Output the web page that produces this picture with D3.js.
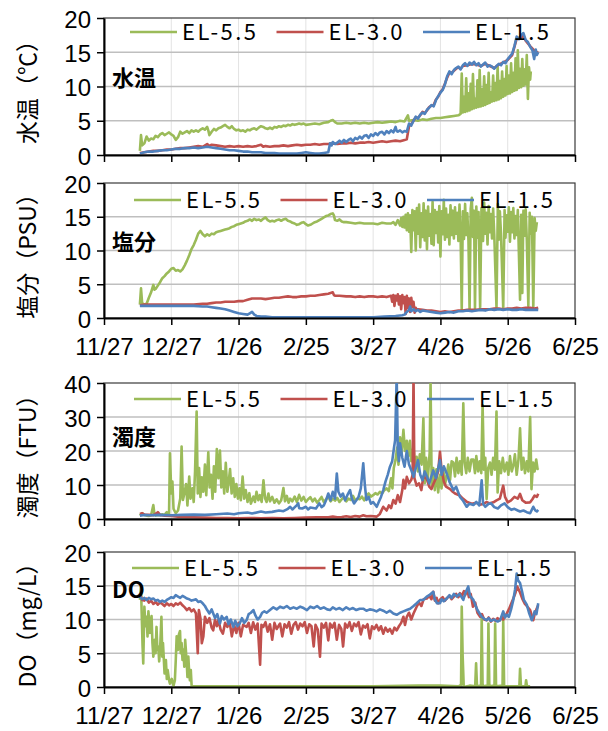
<!DOCTYPE html>
<html>
<head>
<meta charset="utf-8">
<script src="https://cdn.jsdelivr.net/npm/d3@7"></script>
<style>
  body { margin: 0; background: #fff; }
  svg { display: block; font-family: "Noto Sans CJK JP", "Noto Sans", sans-serif; }
</style>
</head>
<body>
<div id="chart"></div>
<script>
// ---- data ----
const seriesNames = ['EL-5.5', 'EL-3.0', 'EL-1.5'];
const startDate = '2018-11-27';
const xTickDates = ['2018-11-27', '2018-12-27', '2019-01-26', '2019-02-25',
  '2019-03-27', '2019-04-26', '2019-05-26', '2019-06-25'];

const panelTitles = ['水温（℃）', '塩分（PSU）', '濁度（FTU）', 'DO（mg/L）'];
const panelLabels = ['水温', '塩分', '濁度', 'DO'];
const yMaxes = [20, 20, 40, 20];
const yTickSteps = [5, 5, 10, 5];

// [days since 11/27, value]
const tempEL55 = [[16,0.6],[16.5,2.9],[17,1.4],[18,1.7],[19,2.7],[20,2.1],[21,2.4],[22,2.3],[23,2.8],[24,2.6],[25,3.0],[26,3.2],[27,2.9],[28,3.1],[29,3.3],[30,3.0],[31,2.8],[32,2.2],[33,2.6],[34,3.4],[35,3.1],[36,3.3],[37,3.5],[38,3.2],[39,3.6],[40,3.4],[41,3.6],[42,3.4],[43,3.7],[44,3.9],[45,3.7],[46,4.1],[46.5,3.6],[47,2.9],[48,3.4],[49,3.8],[50,3.6],[51,3.9],[52,4.0],[53,4.2],[54,4.4],[55,4.1],[56,3.9],[57,4.2],[58,3.8],[59,3.6],[60,3.7],[61,3.5],[62,3.6],[63,3.4],[64,3.7],[65,3.6],[66,3.8],[67,3.9],[68,3.7],[69,4.0],[70,4.2],[71,4.1],[72,3.9],[73,3.8],[74,4.0],[75,3.8],[76,4.1],[77,4.0],[78,4.2],[79,4.1],[80,4.3],[81,4.2],[82,4.4],[83,4.3],[84,4.5],[85,4.4],[86,4.5],[87,4.6],[88,4.5],[89,4.6],[90,4.4],[92,4.5],[94,4.6],[96,4.5],[98,4.7],[100,4.8],[101,5.0],[102,5.1],[103,4.8],[104,4.6],[106,4.6],[108,4.7],[110,4.6],[112,4.7],[114,4.6],[116,4.7],[118,4.6],[120,4.7],[122,4.8],[124,4.7],[126,4.8],[128,4.9],[130,4.8],[132,5.0],[134,4.9],[135.5,5.8],[136,5.0],[138,5.1],[140,5.0],[142,5.2],[144,5.1],[146,5.3],[148,5.4],[150,5.4],[152,5.5],[154,5.6],[156,5.7],[158,5.8],[159,6.0],[159.5,11.9],[160,6.2],[160.5,8.5],[161,6.3],[161.5,11.2],[162,6.4],[162.5,9.0],[163,6.5],[163.5,10.4],[164,6.7],[164.5,11.8],[165,6.8],[165.5,8.2],[166,6.9],[166.5,10.9],[167,7.0],[167.5,12.4],[168,7.1],[168.5,9.6],[169,7.2],[169.5,11.5],[170,7.3],[170.5,10.2],[171,7.5],[171.5,12.0],[172,7.6],[172.5,9.1],[173,7.8],[173.5,11.6],[174,7.9],[174.5,10.5],[175,8.0],[175.5,12.9],[176,8.1],[176.5,10.8],[177,8.3],[177.5,12.2],[178,8.5],[178.5,11.1],[179,8.7],[179.5,13.0],[180,8.9],[180.5,11.6],[181,9.0],[181.5,13.4],[182,9.2],[182.5,12.0],[183,9.4],[183.5,14.1],[184,9.5],[184.5,15.3],[185,9.8],[185.5,12.6],[186,9.9],[186.5,14.0],[187,10.1],[187.5,12.5],[188,10.3],[188.5,14.6],[189,8.2],[189.5,12.8],[190,11.0],[190.3,12.2]];
const tempEL30 = [[16,0.3],[18,0.4],[20,0.5],[22,0.6],[24,0.6],[26,0.7],[28,0.8],[30,0.8],[32,0.9],[34,1.0],[36,1.0],[38,1.1],[40,1.2],[42,1.3],[44,1.2],[46,1.6],[47,1.3],[48,1.5],[50,1.4],[52,1.3],[54,1.2],[56,1.3],[58,1.2],[60,1.3],[62,1.2],[64,1.3],[66,1.2],[68,1.3],[70,1.5],[71,1.2],[72,1.3],[74,1.2],[76,1.3],[78,1.3],[80,1.4],[82,1.3],[84,1.4],[86,1.5],[88,1.4],[90,1.5],[92,1.5],[94,1.6],[96,1.5],[98,1.6],[100,1.6],[102,1.7],[104,1.6],[106,1.7],[108,1.7],[110,1.8],[112,1.7],[114,1.8],[116,1.8],[118,1.9],[120,1.8],[122,1.9],[124,2.0],[126,1.9],[128,2.0],[130,2.1],[132,2.0],[134,2.2],[135,2.3],[136,4.2],[137,4.5],[138,5.0],[139,5.5],[140,5.4],[141,5.8],[142,6.3],[143,6.1],[144,6.5],[145,7.0],[146,7.2],[147,7.3],[148,8.1],[149,8.5],[150,9.2],[151,9.6],[152,10.4],[153,11.3],[154,12.0],[155,12.0],[156,12.3],[157,12.6],[158,12.8],[159,12.6],[160,13.0],[162,13.1],[164,13.3],[166,13.2],[168,13.0],[170,13.3],[172,13.0],[174,12.7],[176,13.2],[178,13.5],[180,13.9],[182,14.6],[184,17.0],[186,17.2],[187,17.4],[188,16.7],[190,15.9],[192,15.2],[193.6,14.9]];
const tempEL15 = [[16,0.2],[18,0.4],[20,0.5],[22,0.5],[24,0.6],[26,0.7],[28,0.7],[30,0.8],[32,0.9],[34,0.9],[36,1.0],[38,1.0],[40,1.1],[42,1.0],[44,1.1],[46,1.2],[48,1.1],[50,1.0],[52,0.9],[54,0.8],[56,0.7],[58,0.7],[60,0.6],[62,0.5],[64,0.5],[66,0.4],[68,0.4],[70,0.4],[72,0.3],[74,0.3],[76,0.3],[78,0.2],[80,0.2],[82,0.2],[84,0.2],[86,0.2],[88,0.3],[90,0.4],[92,0.3],[94,0.2],[96,0.2],[98,0.3],[100,0.4],[100.8,1.7],[101.5,1.4],[102,1.9],[103,1.6],[104,1.8],[105,2.1],[106,1.8],[107,2.2],[108,1.9],[109,2.2],[110,2.4],[111,2.0],[112,2.5],[113,2.3],[114,2.7],[115,2.4],[116,2.8],[117,2.9],[118,2.5],[119,3.0],[120,2.8],[121,3.2],[122,2.9],[123,3.3],[124,3.4],[125,3.0],[126,3.5],[127,3.2],[128,3.6],[129,3.3],[130,4.1],[130.5,3.5],[131,3.4],[132,3.6],[133,3.3],[134,3.5],[135,3.4],[136,4.6],[137,4.3],[138,5.0],[139,5.6],[140,5.3],[141,5.9],[142,6.2],[143,6.0],[144,6.6],[145,6.9],[146,7.3],[147,7.1],[148,8.0],[149,8.6],[150,9.1],[151,9.5],[152,10.3],[153,11.5],[154,12.2],[155,11.8],[156,12.4],[157,12.7],[158,12.9],[159,12.5],[160,13.1],[161,13.4],[162,13.0],[163,13.5],[164,13.2],[165,13.6],[166,13.1],[167,13.4],[168,12.9],[169,13.2],[170,13.5],[171,12.9],[172,13.1],[173,12.9],[174,12.6],[175,13.0],[176,13.3],[177,13.1],[178,13.6],[179,13.4],[180,14.0],[181,14.4],[182,14.8],[183,15.9],[184,17.3],[185,16.9],[186,17.5],[187,17.8],[188,16.8],[189,16.5],[190,15.8],[191,15.3],[191.8,14.0],[192.5,15.4],[193,14.6],[193.6,15.0]];

const salEL55 = [[16,2.0],[16.5,4.4],[17,2.2],[18,2.0],[19,2.1],[20,3.0],[21,3.8],[22,4.9],[22.5,4.2],[23,4.3],[24,4.8],[25,5.3],[26,5.9],[27,6.2],[28,6.6],[29,6.9],[30,7.3],[31,7.4],[32,7.0],[33,7.1],[34,6.9],[35,7.2],[36,7.8],[37,8.5],[38,9.3],[39,10.2],[40,10.8],[41,11.6],[42,12.5],[43,12.9],[44,12.4],[45,12.1],[46,12.4],[47,12.2],[48,12.5],[49,12.4],[50,12.7],[51,12.8],[52,12.9],[53,13.0],[54,13.1],[55,13.2],[56,13.3],[57,13.5],[58,13.6],[59,13.8],[60,13.9],[61,14.0],[62,14.1],[63,14.3],[64,14.4],[65,14.6],[66,14.4],[67,14.7],[68,14.5],[69,14.6],[70,14.4],[71,14.7],[72,14.9],[73,14.5],[74,14.3],[75,14.4],[76,14.3],[77,14.5],[78,14.6],[79,14.4],[80,14.6],[81,14.7],[82,14.4],[83,14.3],[84,14.1],[85,14.0],[86,13.8],[87,13.9],[88,14.1],[89,14.2],[90,13.9],[91,13.7],[92,13.8],[93,14.0],[94,14.2],[95,14.3],[96,14.5],[97,14.7],[98,14.9],[99,15.1],[100,15.2],[101,15.4],[102,15.5],[102.5,15.2],[103,14.5],[104,14.4],[105,14.6],[106,14.3],[107,14.2],[108,14.2],[110,14.1],[112,14.0],[114,14.1],[116,14.0],[118,14.0],[120,14.0],[122,13.9],[124,14.1],[126,14.0],[128,14.0],[129,14.2],[130,13.8],[131,14.5],[132,13.7],[132.5,14.8],[133,13.5],[133.5,15.0],[134,13.4],[134.5,15.3],[135,13.0],[135.5,15.5],[136,12.8],[136.5,15.2],[137,9.8],[137.5,16.0],[138,13.0],[138.5,15.8],[139,10.0],[139.5,16.3],[140,12.5],[140.5,16.8],[141,10.5],[141.5,15.5],[142,12.0],[142.5,17.0],[143,11.5],[143.5,15.9],[144,10.2],[144.5,16.5],[145,12.2],[145.5,15.4],[146,11.0],[146.5,17.2],[147,10.8],[147.5,16.0],[148,12.6],[148.5,15.7],[149,11.2],[149.5,16.6],[150,9.1],[150.5,15.8],[151,12.4],[151.5,17.5],[152,11.6],[152.5,16.2],[153,12.0],[153.5,15.3],[154,10.9],[154.5,16.7],[155,12.3],[155.5,15.9],[156,11.8],[156.5,16.4],[157,12.5],[157.5,15.6],[158,11.4],[158.5,16.8],[159,12.2],[159.5,1.2],[160,15.8],[160.5,11.7],[161,16.9],[161.5,12.3],[162,15.5],[162.5,11.5],[163,1.2],[163.5,16.2],[164,17.8],[164.5,12.0],[165,15.9],[165.4,1.3],[166,16.5],[166.5,11.9],[167,15.7],[167.7,1.5],[168.3,16.3],[169,11.4],[169.5,17.1],[170,12.5],[170.5,15.6],[171,10.9],[171.5,16.6],[172,12.7],[172.5,15.4],[173,11.8],[173.5,16.2],[174,12.4],[175,1.5],[175.6,16.9],[176,11.6],[176.5,15.8],[177,12.6],[178,1.4],[178.6,16.0],[179,11.9],[179.5,15.2],[180,12.8],[180.5,16.4],[181,11.3],[181.5,15.7],[182,12.7],[182.5,16.3],[183,11.8],[183.5,15.1],[184,12.3],[184.5,16.0],[185.5,2.7],[186,15.3],[186.5,3.7],[187,15.9],[187.5,12.2],[188,16.1],[188.5,11.7],[189.2,1.8],[189.8,15.6],[190.3,12.5],[190.8,15.0],[191.4,1.5],[192,14.8],[192.5,12.9],[193,14.2]];
const salEL30 = [[16,1.9],[18,2.0],[20,2.0],[25,2.0],[30,2.0],[35,2.0],[40,2.0],[44,2.1],[46,2.1],[48,2.2],[50,2.3],[52,2.3],[54,2.4],[56,2.4],[58,2.4],[60,2.5],[62,2.5],[64,2.7],[66,2.9],[68,2.9],[70,2.9],[72,2.8],[74,2.9],[76,3.0],[78,3.0],[80,3.1],[82,3.2],[84,3.1],[86,3.1],[88,3.2],[90,3.2],[92,3.3],[94,3.3],[96,3.4],[98,3.5],[100,3.6],[101,3.7],[102,3.8],[102.5,3.4],[103,3.3],[105,3.3],[108,3.2],[110,3.2],[112,3.1],[114,3.2],[116,3.1],[118,3.2],[120,3.2],[122,3.1],[124,3.2],[126,3.1],[128,3.3],[128.5,2.4],[129,3.4],[129.5,1.8],[130,3.3],[130.5,2.6],[131,3.5],[131.5,2.0],[132,3.2],[132.5,1.3],[133,3.4],[133.5,2.2],[134,3.1],[134.5,0.6],[135,3.3],[135.5,1.5],[136,2.9],[136.5,0.9],[137,3.0],[137.5,1.6],[138,2.4],[138.5,0.8],[139,1.5],[139.5,1.2],[140,1.3],[142,1.2],[144,1.1],[146,1.1],[148,1.0],[150,0.9],[152,1.0],[154,0.9],[156,1.0],[158,1.1],[160,1.1],[162,1.2],[164,1.2],[166,1.2],[168,1.3],[170,1.3],[172,1.3],[174,1.4],[176,1.4],[178,1.3],[180,1.4],[182,1.4],[184,1.5],[186,1.4],[188,1.5],[190,1.5],[192,1.4],[193.6,1.5]];
const salEL15 = [[16,1.8],[20,1.8],[25,1.8],[30,1.8],[35,1.8],[40,1.8],[44,1.7],[46,1.7],[48,1.6],[50,1.5],[52,1.4],[54,1.3],[56,1.1],[58,0.9],[60,0.7],[62,0.6],[64,0.5],[65,0.7],[66,0.9],[67,0.5],[68,0.3],[70,0.2],[72,0.2],[75,0.1],[80,0.1],[85,0.1],[90,0.1],[95,0.1],[100,0.1],[105,0.1],[110,0.1],[115,0.1],[120,0.1],[125,0.2],[130,0.3],[133,0.4],[134,0.5],[135,0.9],[136,1.2],[136.5,1.7],[137,1.0],[138,1.3],[139,1.0],[140,1.2],[141,0.9],[142,1.1],[144,1.0],[146,0.9],[148,0.8],[150,0.7],[152,0.8],[154,0.9],[156,0.8],[158,1.0],[160,1.0],[162,1.1],[164,1.0],[166,1.1],[168,1.2],[170,1.1],[172,1.3],[174,1.2],[176,1.3],[178,1.2],[180,1.3],[182,1.2],[184,1.2],[186,1.3],[188,1.2],[190,1.2],[192,1.2],[193.6,1.2]];

const turbEL55 = [[16,1.0],[17,1.7],[18,1.2],[19,1.0],[20,0.9],[21,1.1],[22,4.1],[22.5,1.3],[23,1.0],[24,1.2],[25,1.1],[26,1.4],[27,1.2],[28,2.0],[29,1.5],[29.4,19.3],[30,7.5],[30.5,11.0],[31,3.0],[32,1.7],[33,2.5],[34,6.0],[34.6,21.3],[35.2,5.6],[36,8.0],[36.6,10.3],[37.2,4.0],[38,12.5],[38.6,6.0],[39.4,9.0],[40,5.0],[40.6,14.0],[41.3,31.6],[41.8,7.5],[42.4,15.0],[43,6.5],[43.6,12.3],[44.3,8.0],[45,16.0],[45.6,7.0],[46.5,19.6],[47.1,9.3],[47.7,13.0],[48.4,6.0],[49,15.5],[49.6,8.0],[50.3,20.6],[51,12.0],[51.7,20.1],[52.3,9.3],[53,14.0],[53.6,7.5],[54.3,16.5],[55,8.0],[55.6,11.0],[56.2,14.7],[56.9,7.5],[57.6,12.0],[58.3,6.5],[59,10.3],[59.7,6.0],[60.4,9.0],[61,5.5],[61.8,12.5],[62.5,6.0],[63.2,8.5],[64,5.0],[64.8,7.6],[65.5,4.5],[66.6,6.6],[67.3,5.0],[68,8.0],[68.8,5.5],[69.5,7.0],[70.3,5.0],[71.1,11.4],[71.8,6.1],[72.5,5.0],[73.3,7.5],[74,5.2],[75,6.5],[76,4.8],[77,5.8],[78,4.6],[79,5.5],[80,9.1],[80.7,5.2],[81.5,6.8],[82.3,4.8],[83,6.0],[84,5.2],[85,6.6],[86,5.0],[87,7.1],[88,5.4],[89,6.5],[90,5.0],[91,5.8],[92,6.4],[93,5.2],[94,6.0],[95,4.8],[96,5.6],[97,6.5],[98,5.0],[99,5.8],[100,6.6],[101,5.2],[102,6.0],[103,5.4],[104,6.2],[105,5.0],[106,5.8],[107,6.4],[108,5.2],[109,6.0],[110,5.6],[111,6.8],[112,5.4],[113,6.0],[114,5.8],[115,6.6],[116,5.5],[117,6.8],[118,7.5],[119,6.6],[120,7.0],[121,7.6],[122,7.2],[123,8.0],[124,7.5],[125,8.5],[126,9.0],[127,8.2],[128,12.0],[128.6,9.0],[129.2,15.0],[130,17.4],[130.7,21.0],[131.3,16.0],[132,24.0],[132.7,19.5],[133.5,26.2],[134.2,20.0],[135,23.0],[135.7,18.5],[136.4,23.0],[137,17.0],[138,21.3],[138.7,15.0],[139.4,18.3],[140,14.0],[140.8,19.0],[141.6,16.0],[142.4,29.6],[143,10.5],[143.6,18.0],[144.4,12.0],[145.2,19.5],[145.6,40.4],[146.1,9.8],[146.8,15.0],[147.5,8.5],[148.2,14.6],[149,7.8],[149.8,13.0],[150.5,9.0],[151.2,15.0],[152,10.0],[152.8,12.7],[153.5,16.0],[154.3,11.5],[155,17.0],[155.8,16.6],[156.5,12.5],[157.2,18.0],[158,13.5],[158.7,17.0],[159.5,13.0],[160.2,34.0],[160.8,16.6],[161.5,13.5],[162.2,18.0],[163,14.0],[163.8,17.5],[164.7,17.5],[165.4,13.5],[166,18.5],[166.8,14.0],[167.5,17.0],[168.2,13.5],[168.8,33.5],[169.4,14.5],[170,18.0],[170.6,5.9],[171.3,15.0],[172.1,16.6],[172.8,13.0],[173.5,18.0],[174.3,14.5],[175,31.6],[175.5,7.8],[176.2,17.0],[177,13.5],[177.8,18.0],[178.6,14.0],[179.6,16.6],[180.3,13.0],[181,18.5],[181.8,14.0],[182.5,15.7],[183.2,19.0],[184,13.0],[184.8,17.5],[185.5,26.7],[186.2,14.5],[187,18.0],[187.7,13.5],[188.5,17.0],[189.2,14.0],[190,30.0],[190.6,8.8],[191.3,16.6],[192,14.0],[192.7,17.5],[193.3,14.7],[193.6,15.0]];
const turbEL30 = [[16,1.5],[17,1.7],[18,1.3],[20,1.2],[22,1.1],[24,2.0],[25,1.2],[27,1.0],[30,0.9],[33,0.7],[36,0.6],[40,0.5],[45,0.4],[50,0.3],[55,0.3],[60,0.2],[65,0.3],[70,0.2],[75,0.3],[80,0.2],[85,0.3],[90,0.4],[95,0.5],[100,0.5],[102,0.7],[104,0.5],[106,0.6],[108,0.8],[110,0.6],[112,0.9],[114,0.7],[115.6,1.1],[117,0.8],[119,0.9],[121.6,0.7],[123,1.5],[124.5,3.6],[126,2.5],[127,4.0],[128,3.2],[129,5.6],[130,4.5],[131,7.0],[132,5.0],[133,8.5],[133.5,11.5],[134.2,9.0],[135,12.4],[136,10.5],[137,11.5],[137.6,13.0],[138,42],[138.4,12.0],[139.4,9.8],[140.5,10.5],[141.5,8.5],[142.4,12.5],[143.9,11.8],[145,9.5],[146,8.8],[147,10.5],[148,12.0],[149,14.0],[149.8,19.8],[150.4,15.2],[151.5,11.0],[152.5,9.5],[154.3,8.8],[155.5,8.0],[156.5,7.5],[158.7,6.9],[160,6.0],[161.5,5.2],[162.2,4.9],[164,4.5],[166,4.8],[167.5,4.2],[169.1,4.4],[170.5,5.0],[172,4.6],[173.6,4.9],[175,5.5],[176.5,6.0],[178,9.8],[178.8,6.5],[180,4.9],[181.5,5.5],[183,6.5],[184.5,6.0],[185.5,7.4],[186.5,5.5],[188,4.8],[190,4.9],[191,5.8],[192,6.9],[193,6.5],[193.6,7.4]];
const turbEL15 = [[16,1.0],[18,1.2],[20,1.1],[25,1.2],[30,1.1],[35,1.2],[40,1.3],[45,1.2],[50,1.4],[55,1.6],[58,1.4],[60,1.7],[64,1.9],[66,1.6],[70,2.2],[72,1.9],[75,2.1],[78,2.5],[80,2.3],[82,3.0],[83,3.6],[84,2.8],[86,4.1],[86.6,4.6],[87,3.2],[88.4,3.1],[90,3.6],[91,2.8],[92,3.4],[94.5,3.1],[96,4.6],[97,3.5],[98,4.0],[99,5.5],[100,7.5],[101,5.5],[102,8.0],[103,6.0],[103.8,13.4],[104.5,8.0],[105.5,6.6],[106.5,7.5],[107.5,5.5],[108.5,7.0],[109.7,8.5],[110.5,6.0],[111.5,4.6],[112.5,5.5],[113.5,6.5],[114.5,9.0],[115.6,16.4],[116.3,10.0],[117,5.6],[118,6.5],[119,4.5],[120,5.0],[121.6,3.6],[122.5,5.0],[123.5,6.5],[124.5,8.5],[125.5,11.0],[126.5,13.0],[127.5,15.4],[128.5,17.0],[129.3,21.0],[129.8,23.2],[130.5,42],[131,20.0],[131.5,17.0],[132,22.3],[133,18.0],[134,15.4],[135,20.0],[136,16.0],[137,14.4],[138,12.4],[139,15.0],[140,17.3],[141,13.0],[142,11.4],[143,14.0],[144,12.5],[145,10.5],[146.8,14.3],[148,12.0],[149.8,17.3],[150.5,13.0],[151.5,15.5],[152.8,13.4],[154,11.0],[155.8,8.5],[157,9.5],[158.7,6.5],[160,5.5],[161.7,3.6],[163,4.5],[164.7,4.1],[166,5.0],[167.3,4.0],[168.4,11.4],[169,4.5],[170,3.6],[171.5,4.5],[172.6,4.6],[174,3.5],[175.6,3.1],[177,4.0],[178.6,4.6],[180,3.5],[181.6,2.7],[183,3.0],[184.5,2.5],[185.5,2.2],[187,2.5],[188.5,2.0],[190,1.7],[191.4,3.6],[192.3,2.5],[193,2.2],[193.6,2.7]];

const doEL55 = [[16,12.9],[16.5,14.8],[17.2,6.0],[17.5,3.5],[18,11.9],[18.5,9.0],[19,10.4],[19.4,7.5],[19.8,11.2],[20.5,8.0],[21.2,10.5],[21.6,6.5],[22,4.5],[22.6,7.0],[23,5.0],[23.4,8.9],[23.8,5.5],[24.2,6.0],[24.6,3.8],[25,5.5],[25.6,10.4],[26,4.5],[26.3,6.5],[27,2.0],[27.6,4.0],[28,1.2],[28.4,2.5],[29,1.0],[29.4,0.5],[30.2,1.2],[31,0.2],[31.6,1.0],[32,4.0],[32.4,7.5],[33,5.5],[33.4,7.8],[33.9,8.3],[34.2,5.0],[34.6,6.5],[35,4.0],[35.4,5.5],[35.8,3.0],[36.2,7.0],[36.9,3.5],[37.2,1.5],[37.6,4.5],[38,2.0],[38.3,1.0],[38.7,2.5],[39.1,0],[40,0.1],[60,0.1],[80,0.1],[100,0.1],[120,0.1],[140,0.2],[150,0.2],[158,0.1],[159.2,0.3],[159.5,11.9],[159.9,4.7],[160.4,0],[163,0.2],[165.5,0.1],[165.9,3.5],[166.3,0.1],[168.1,0.2],[168.4,10.4],[168.8,0.1],[171.1,0.2],[171.4,9.4],[171.8,0.1],[174.1,0.2],[174.4,9.4],[174.8,0.1],[177.7,0.2],[178,9.9],[178.4,0.1],[185.2,0.1],[185.5,2.7],[185.9,0.1],[187.9,0.1],[188.2,1.0],[188.6,0.1],[190,0.1]];
const doEL30 = [[16,13.9],[17,12.9],[18,12.8],[19,13.1],[20,12.5],[21,12.8],[22,12.3],[23,12.6],[24,12.2],[25,12.5],[26,12.3],[27,12.0],[28,12.4],[29,12.1],[30,12.3],[31,12.0],[32,12.4],[33,12.2],[34,12.5],[35,12.1],[36,11.8],[37,11.4],[38,11.7],[39,11.2],[40,11.5],[41,10.9],[41.8,5.0],[42.3,11.4],[43,10.2],[43.6,6.5],[44.3,7.5],[45,10.4],[46,9.5],[47,10.2],[48,8.8],[48.7,8.4],[49.5,10.0],[50.3,9.0],[51,9.9],[52,8.5],[53,7.9],[54,9.5],[55,8.9],[56,9.7],[57,7.5],[58,9.2],[59,8.0],[60,9.5],[61,7.5],[62,9.2],[63.6,8.9],[64.5,9.5],[65.5,8.0],[66.5,9.6],[67.5,8.5],[68.5,9.4],[69.6,3.3],[70.2,9.2],[71,8.9],[72,9.6],[73,8.2],[74,9.3],[75,7.0],[76,9.5],[77,8.6],[78.5,9.4],[79.5,7.5],[80.5,9.3],[81.5,8.8],[82.5,9.6],[83.5,7.9],[84.5,9.2],[85.5,9.6],[86.5,8.5],[87.5,9.4],[88.5,9.0],[89.5,9.6],[90.5,8.0],[91.5,9.3],[92.5,9.0],[93.5,6.0],[94.3,9.2],[95.3,8.5],[96.3,4.5],[97,9.4],[98,8.8],[99,9.5],[100,6.9],[100.8,9.4],[101.8,8.8],[102.8,9.5],[103.8,7.0],[104.8,9.2],[105.8,8.6],[106.6,6.0],[107.5,9.4],[108.5,8.8],[109.5,9.6],[110.5,8.3],[111.5,9.4],[112.5,9.0],[113.5,9.6],[114.5,7.8],[115.5,9.1],[116.5,8.8],[117.5,9.3],[118.5,7.2],[119.5,9.0],[120.5,8.6],[121.5,9.2],[122.5,8.4],[123.5,9.0],[124.5,7.9],[125.5,8.8],[126.5,8.2],[127.5,8.6],[128.5,7.9],[129.5,8.8],[130.5,8.4],[131.5,9.0],[132.5,9.5],[133.5,10.4],[134.2,9.2],[135,10.4],[136,11.0],[137,10.0],[138,10.9],[139.4,11.9],[140.5,12.5],[141.5,12.0],[142.5,13.0],[143.9,13.1],[145,13.5],[146,13.0],[146.8,14.1],[147.5,12.8],[148.3,13.2],[149,12.4],[150,13.0],[151,13.3],[152,12.8],[153,13.2],[154,13.5],[155,13.0],[156,13.4],[157,13.8],[158,13.3],[158.7,13.9],[159.5,13.5],[160.5,14.2],[161,13.6],[162,14.4],[162.7,13.3],[163.5,13.8],[164.5,11.9],[165.5,12.5],[166.5,11.0],[167.7,10.4],[168.5,10.8],[169.5,10.0],[170.6,9.9],[171.5,10.3],[172.5,9.7],[173.5,10.1],[174.5,9.8],[175.5,10.2],[176.6,9.9],[177.5,10.4],[178,10.0],[179.6,10.9],[180.5,11.5],[181.5,12.3],[182.5,13.1],[183.5,14.0],[184.2,14.9],[184.8,14.5],[185.5,14.0],[186.5,13.1],[187.5,12.4],[188.5,12.0],[190,11.4],[190.8,10.5],[191.4,9.9],[192,10.8],[192.8,11.5],[193.6,12.1]];
const doEL15 = [[16,13.4],[17,13.0],[18,13.2],[19,12.9],[20,13.2],[21,13.0],[22,13.1],[23,12.8],[24,12.9],[25,12.6],[26,12.8],[27,12.6],[28,12.9],[29,13.1],[30,13.3],[31,13.2],[32,13.6],[33,13.4],[34,13.2],[35,13.5],[36,13.3],[37,13.1],[38,13.0],[39,12.8],[40,12.9],[41,13.0],[42,12.6],[43,12.7],[44,12.4],[45,12.0],[46,11.4],[47,10.9],[48,11.5],[48.7,10.9],[49.5,10.2],[50.5,10.8],[51.7,9.4],[52.5,10.5],[53.5,10.0],[54.7,10.4],[55.5,9.3],[56.5,10.0],[57.7,8.9],[58.5,9.8],[59.5,9.0],[60.5,9.4],[61.5,10.2],[62.5,9.5],[63.6,9.9],[64.5,10.8],[65.5,11.0],[66.6,11.4],[67.5,10.6],[68.5,10.0],[69.6,10.4],[70.5,11.0],[71.5,11.2],[72.5,11.0],[74,11.4],[75.5,11.8],[77,11.5],[78.5,11.9],[80,11.7],[81.5,12.0],[83,11.6],[84.5,11.8],[86,11.6],[87.5,11.9],[89,11.7],[90.5,11.4],[92,11.9],[93.5,11.7],[95,12.0],[96.5,11.6],[98,11.8],[99.5,11.5],[100.8,11.4],[102,11.8],[103.5,11.5],[105,11.7],[106.5,11.4],[108,11.8],[109.5,11.5],[111,11.7],[112.5,11.4],[114,11.6],[115.6,11.6],[117,11.3],[118.5,11.5],[120,11.4],[121.5,11.2],[123,11.5],[124.5,11.3],[126,11.0],[127.5,11.3],[129,10.9],[130.5,10.7],[132,11.0],[133.5,11.2],[135,11.4],[136.5,11.6],[138,12.0],[139.4,12.4],[141,12.9],[142.4,12.9],[143.9,13.4],[145,13.6],[146.8,14.1],[147.5,13.0],[148.5,12.4],[149.8,12.4],[150.5,13.0],[151.5,12.7],[152.8,13.1],[154,13.6],[155,13.2],[156,13.8],[157.3,13.4],[158.5,13.8],[160.2,12.9],[161,13.8],[162.4,14.9],[163.2,13.5],[164.7,12.9],[165.5,12.2],[166.5,11.4],[168.4,10.4],[169.5,10.1],[170.6,9.9],[171.5,10.2],[172.5,9.8],[174,10.0],[175.5,9.7],[176.6,9.9],[178,11.2],[178.8,10.3],[179.6,10.7],[180.5,10.4],[181.5,11.5],[182.5,12.9],[183.3,14.5],[184,16.8],[184.6,15.8],[185.5,15.4],[186.5,14.0],[187.2,12.9],[188.5,12.2],[189.5,11.0],[190.7,9.9],[191.4,10.5],[192,11.2],[192.8,10.8],[193.6,12.4]];

const panelSeries = [
  [tempEL55, tempEL30, tempEL15],
  [salEL55, salEL30, salEL15],
  [turbEL55, turbEL30, turbEL15],
  [doEL55, doEL30, doEL15],
];

// ---- layout / style ----
const props = {
  width: 608,
  height: 731,
  plotLeft: 104,
  plotRight: 575,
  colors: ['#9bbb59', '#c0504d', '#4f81bd'],
  lineWidth: 2.6,
  gridColor: '#bfbfbf',
  vGridColor: '#e3e3e3',
  tickFont: '"Liberation Sans", "DejaVu Sans", sans-serif',
  fontSize: 24,
  legendFontSize: 22,
  legendSpacing: 146.5,
  legendLine: 47,
  panels: [
    { top: 18, bottom: 155, showDates: false, legendX: 130, legendY: 32, labelY: 86 },
    { top: 183, bottom: 318, showDates: true, legendX: 134, legendY: 200, labelY: 250 },
    { top: 383, bottom: 519, showDates: false, legendX: 134, legendY: 399, labelY: 445 },
    { top: 552, bottom: 687, showDates: true, legendX: 132, legendY: 568, labelY: 598 },
  ],
};

const parseDate = d3.utcParse('%Y-%m-%d');
const formatDate = d3.utcFormat('%-m/%-d');
const start = parseDate(startDate);
const toDate = (d) => new Date(+start + d * 864e5);
const xTicks = xTickDates.map(parseDate);

const x = d3.scaleUtc()
  .domain([xTicks[0], xTicks[xTicks.length - 1]])
  .range([props.plotLeft, props.plotRight]);

const svg = d3.select('#chart')
  .append('svg')
  .attr('width', props.width)
  .attr('height', props.height);

props.panels.forEach((layout, i) => {
  const y = d3.scaleLinear()
    .domain([0, yMaxes[i]])
    .range([layout.bottom, layout.top]);
  const yTicks = d3.range(0, yMaxes[i] + 1e-9, yTickSteps[i]);

  const g = svg.append('g').attr('class', `panel panel-${i}`);

  // vertical grid
  g.append('g')
    .selectAll('line')
    .data(xTicks.slice(1, -1))
    .join('line')
    .attr('x1', x).attr('x2', x)
    .attr('y1', layout.top).attr('y2', layout.bottom)
    .style('stroke', props.vGridColor)
    .style('stroke-width', 1);

  // horizontal grid
  g.append('g')
    .selectAll('line')
    .data(yTicks.slice(1, -1))
    .join('line')
    .attr('x1', props.plotLeft).attr('x2', props.plotRight)
    .attr('y1', y).attr('y2', y)
    .style('stroke', props.gridColor)
    .style('stroke-width', 1.5);

  // frame
  g.append('rect')
    .attr('x', props.plotLeft)
    .attr('y', layout.top)
    .attr('width', props.plotRight - props.plotLeft)
    .attr('height', layout.bottom - layout.top)
    .style('fill', 'none')
    .style('stroke', '#3a3a3a')
    .style('stroke-width', 1.2);

  // series
  const clipId = `clip-${i}`;
  g.append('clipPath').attr('id', clipId)
    .append('rect')
    .attr('x', props.plotLeft)
    .attr('y', layout.top)
    .attr('width', props.plotRight - props.plotLeft)
    .attr('height', layout.bottom - layout.top);

  const line = d3.line()
    .x((d) => x(toDate(d[0])))
    .y((d) => y(d[1]));

  g.append('g')
    .attr('clip-path', `url(#${clipId})`)
    .selectAll('path')
    .data(panelSeries[i])
    .join('path')
    .attr('d', line)
    .style('fill', 'none')
    .style('stroke', (d, k) => props.colors[k])
    .style('stroke-width', props.lineWidth)
    .style('stroke-linejoin', 'round');

  // axes
  const yAxis = g.append('g')
    .attr('transform', `translate(${props.plotLeft},0)`)
    .call(d3.axisLeft(y).tickValues(yTicks).tickSize(7).tickSizeOuter(0).tickPadding(6));
  const xAxis = g.append('g')
    .attr('transform', `translate(0,${layout.bottom})`)
    .call(d3.axisBottom(x).tickValues(xTicks).tickSize(7).tickSizeOuter(0).tickPadding(13)
      .tickFormat(formatDate));
  if (!layout.showDates) xAxis.selectAll('.tick text').remove();

  [yAxis, xAxis].forEach((axis) => {
    axis.select('.domain').style('stroke', '#000').style('stroke-width', 2);
    axis.selectAll('.tick line').style('stroke', '#000').style('stroke-width', 1.5);
    axis.selectAll('.tick text')
      .style('font-family', props.tickFont)
      .style('font-size', `${props.fontSize}px`)
      .style('fill', '#000');
  });
  yAxis.selectAll('.tick text').attr('dy', '0.38em');

  // axis title
  g.append('text')
    .attr('transform', `translate(28,${(layout.top + layout.bottom) / 2}) rotate(-90)`)
    .attr('text-anchor', 'middle')
    .attr('dy', '0.36em')
    .style('font-size', '23px')
    .text(panelTitles[i]);

  // inner label
  g.append('text')
    .attr('x', 112)
    .attr('y', layout.labelY)
    .style('font-size', '22px')
    .style('font-weight', 'bold')
    .text(panelLabels[i]);

  // legend
  const legend = g.append('g')
    .selectAll('g')
    .data(seriesNames)
    .join('g')
    .attr('transform', (d, k) => `translate(${layout.legendX + k * props.legendSpacing},${layout.legendY})`);

  legend.append('line')
    .attr('x1', 0).attr('x2', props.legendLine)
    .style('stroke', (d, k) => props.colors[k])
    .style('stroke-width', props.lineWidth);

  legend.append('text')
    .attr('x', props.legendLine + 5)
    .attr('dy', '0.36em')
    .attr('textLength', 74)
    .attr('lengthAdjust', 'spacing')
    .style('font-size', `${props.legendFontSize}px`)
    .text((d) => d);
});
</script>
</body>
</html>
